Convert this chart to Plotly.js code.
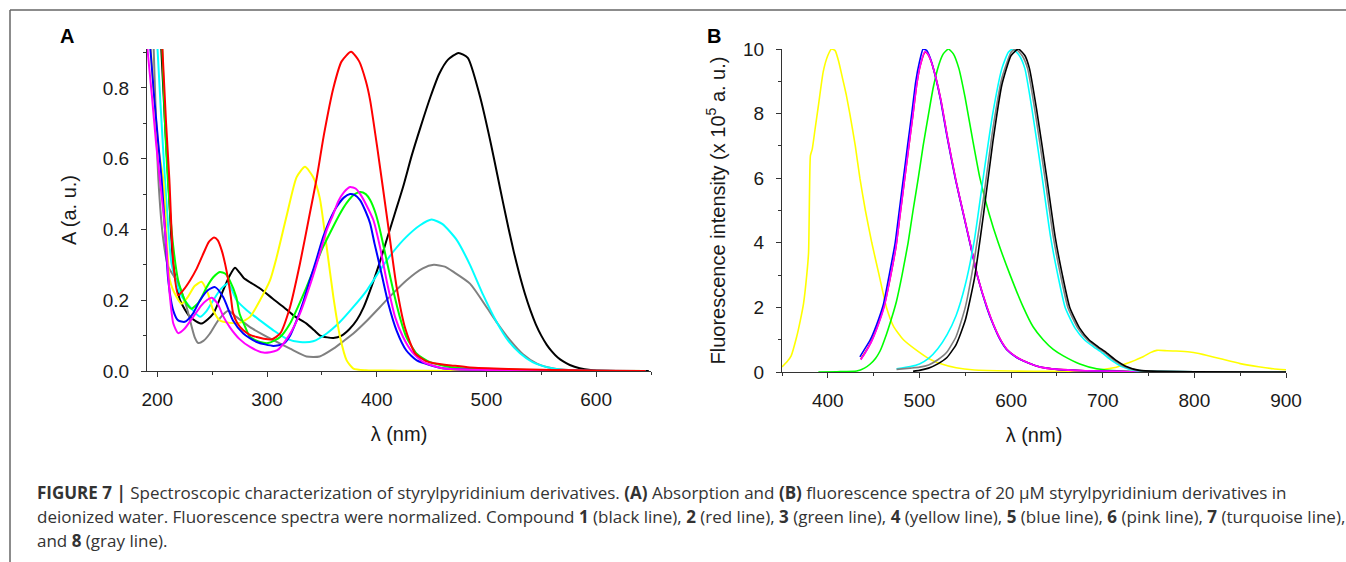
<!DOCTYPE html>
<html>
<head>
<meta charset="utf-8">
<script src="https://cdn.plot.ly/plotly-3.0.1.min.js"></script>
<style>
  html, body { margin: 0; padding: 0; background: #fff; }
  #chart { width: 1346px; height: 562px; }
</style>
</head>
<body>
<div id="chart"></div>
<script>
// ---------- Panel A: absorption (wavelength nm, absorbance a.u.) ----------
const absWl1 = [203, 207, 210, 214.6, 220.7, 229.8, 240.4, 251, 260, 266, 270.8, 275, 279, 285, 293.6, 305, 315, 325, 336, 343, 348, 355, 360.5, 368, 375, 382, 388, 394, 402, 410, 417, 424, 432, 440, 449, 457, 465, 474.5, 483, 494, 504, 510, 515, 520, 525, 530, 535, 540, 545, 550, 555, 560, 565, 570, 576, 585, 595, 610, 648];
const absA1  = [0.95, 0.70, 0.54, 0.30, 0.20, 0.153, 0.134, 0.162, 0.228, 0.27, 0.292, 0.278, 0.262, 0.25, 0.233, 0.205, 0.181, 0.155, 0.134, 0.115, 0.101, 0.095, 0.093, 0.10, 0.118, 0.145, 0.18, 0.228, 0.30, 0.38, 0.45, 0.52, 0.61, 0.69, 0.775, 0.84, 0.88, 0.899, 0.885, 0.777, 0.643, 0.553, 0.478, 0.405, 0.336, 0.274, 0.219, 0.172, 0.132, 0.10, 0.074, 0.054, 0.038, 0.027, 0.017, 0.008, 0.003, 0.001, 0.0];

const absWl2 = [204, 208, 211, 214.6, 219, 224, 229.8, 236, 242, 247, 251.7, 255, 258.7, 262, 264.7, 267, 269, 273, 278.4, 284, 290.6, 297, 304, 312, 321, 330, 339, 345, 352, 360.5, 368, 376.6, 384, 390, 394, 401, 410, 418, 426, 435, 445, 452, 470, 485, 520, 560, 600, 645];
const absA2  = [0.95, 0.70, 0.54, 0.303, 0.214, 0.23, 0.256, 0.29, 0.332, 0.365, 0.377, 0.37, 0.341, 0.30, 0.256, 0.21, 0.165, 0.135, 0.115, 0.103, 0.096, 0.091, 0.089, 0.106, 0.181, 0.303, 0.445, 0.54, 0.67, 0.80, 0.875, 0.902, 0.875, 0.82, 0.765, 0.62, 0.42, 0.24, 0.12, 0.05, 0.028, 0.022, 0.015, 0.01, 0.006, 0.003, 0.001, 0.0];

const absWl3 = [204, 207, 210, 214.6, 219, 225, 231, 238, 245, 251, 257, 262, 266, 272, 275, 280, 284.5, 293.6, 301, 312, 321, 328, 336, 343, 351, 359, 366.6, 372.6, 378.7, 384.8, 390, 394, 399, 403, 409, 415, 421, 427, 436.5, 448.6, 470, 500, 550, 600, 645];
const absA3  = [0.95, 0.70, 0.52, 0.35, 0.256, 0.20, 0.176, 0.195, 0.237, 0.265, 0.28, 0.275, 0.256, 0.209, 0.162, 0.125, 0.096, 0.082, 0.079, 0.096, 0.134, 0.18, 0.237, 0.29, 0.35, 0.40, 0.445, 0.475, 0.497, 0.506, 0.50, 0.483, 0.445, 0.398, 0.313, 0.228, 0.153, 0.096, 0.049, 0.025, 0.01, 0.005, 0.002, 0.001, 0.0];

const absWl4 = [193, 197, 201, 205.5, 211.5, 217.6, 222, 228, 234, 240.4, 246, 251, 257, 266, 275, 284.5, 293.6, 302.7, 308.8, 318, 327, 334.6, 342, 348, 354.4, 360.5, 366.6, 372.6, 378.7, 390, 420, 500, 645];
const absA4  = [0.95, 0.78, 0.63, 0.54, 0.256, 0.209, 0.19, 0.21, 0.24, 0.252, 0.22, 0.171, 0.143, 0.136, 0.136, 0.153, 0.20, 0.256, 0.322, 0.44, 0.548, 0.577, 0.548, 0.49, 0.35, 0.209, 0.096, 0.03, 0.007, 0.002, 0.001, 0.0, 0.0];

const absWl5 = [192.7, 197, 201, 204, 207, 210, 214.6, 219, 225, 232, 239, 246, 252.6, 260, 269, 278.4, 290.6, 305.8, 315, 321, 327, 333, 339, 345, 351, 357, 363.5, 370, 375.7, 380, 384.8, 390, 394, 398, 403, 410.6, 418, 427, 436.5, 460, 500, 600, 645];
const absA5  = [0.95, 0.78, 0.64, 0.54, 0.40, 0.256, 0.17, 0.143, 0.139, 0.16, 0.20, 0.228, 0.237, 0.209, 0.143, 0.106, 0.082, 0.071, 0.077, 0.10, 0.143, 0.195, 0.256, 0.315, 0.377, 0.425, 0.464, 0.49, 0.50, 0.497, 0.483, 0.45, 0.417, 0.36, 0.294, 0.19, 0.115, 0.058, 0.03, 0.008, 0.003, 0.0, 0.0];

const absWl6 = [190.4, 195, 199, 202.4, 207, 211.5, 214.6, 219, 225, 232, 240, 245, 249.5, 255, 260, 266, 275, 284.5, 296.7, 309, 320, 330, 340, 347, 354.4, 360, 365, 370, 375.7, 381, 386, 392, 397, 403, 409, 417, 424, 432, 442.6, 460, 500, 600, 640];
const absA6  = [0.93, 0.78, 0.64, 0.54, 0.40, 0.21, 0.134, 0.107, 0.12, 0.15, 0.185, 0.20, 0.207, 0.19, 0.155, 0.124, 0.09, 0.068, 0.052, 0.058, 0.10, 0.162, 0.25, 0.32, 0.398, 0.44, 0.48, 0.505, 0.52, 0.515, 0.495, 0.46, 0.426, 0.35, 0.256, 0.15, 0.096, 0.055, 0.025, 0.008, 0.003, 0.001, 0.0];

const absWl7 = [199.5, 203, 207, 213, 220.7, 229.8, 239, 245, 251, 258, 264.7, 272.3, 281.5, 293.6, 305.8, 318, 330, 342, 354.4, 366.6, 378.7, 391, 403, 415, 427, 439.5, 450, 460, 473, 485, 497, 509, 520, 530.6, 542, 555, 570, 590, 645];
const absA7  = [0.95, 0.75, 0.54, 0.303, 0.219, 0.181, 0.153, 0.17, 0.20, 0.232, 0.247, 0.20, 0.172, 0.143, 0.115, 0.091, 0.082, 0.084, 0.106, 0.139, 0.181, 0.228, 0.285, 0.337, 0.379, 0.412, 0.428, 0.415, 0.37, 0.30, 0.215, 0.14, 0.085, 0.05, 0.025, 0.011, 0.003, 0.0, 0.0];

const absWl8 = [196.3, 201, 205.5, 210, 217.6, 222, 226.7, 234, 237.4, 242, 248, 256, 264.7, 272, 284.5, 295, 305.8, 321, 336, 348, 360.5, 370, 378.7, 391, 403, 415, 427, 442, 452, 462, 470, 485, 500, 510, 521.5, 533, 546, 560, 575, 600, 645];
const absA8  = [0.95, 0.54, 0.37, 0.294, 0.256, 0.225, 0.181, 0.096, 0.079, 0.085, 0.106, 0.145, 0.17, 0.153, 0.124, 0.105, 0.087, 0.063, 0.041, 0.041, 0.063, 0.085, 0.106, 0.142, 0.181, 0.22, 0.256, 0.29, 0.30, 0.295, 0.28, 0.247, 0.181, 0.135, 0.087, 0.048, 0.021, 0.008, 0.003, 0.0, 0.0];

// ---------- Panel B: fluorescence (wavelength nm, intensity x 10^5 a.u.) ----------
const flWl1 = [493, 500, 510, 520, 530, 540, 550, 560, 570, 580, 590, 600, 608, 615, 620, 628, 639, 648, 656, 664, 675, 685, 695, 704, 715, 725, 740, 760, 800, 900];
const flI1  = [0.02, 0.05, 0.12, 0.25, 0.45, 0.85, 1.6, 2.9, 4.9, 7.1, 8.9, 9.8, 10.0, 9.8, 9.4, 8.1, 6.0, 4.2, 3.0, 2.0, 1.35, 1.0, 0.78, 0.6, 0.35, 0.18, 0.05, 0.02, 0.01, 0.0];

const flWl2 = [436, 441, 447, 454, 461.5, 468, 474.5, 479, 483.5, 488, 492.6, 497, 501, 506, 509, 513, 518, 523.5, 531, 540, 548, 556, 564, 574.4, 581, 589, 596, 607, 614, 632, 651, 681, 718, 742];
const flI2  = [0.40, 0.62, 0.92, 1.4, 2.05, 2.9, 3.9, 4.9, 5.9, 6.9, 7.9, 8.9, 9.5, 9.9, 9.85, 9.6, 9.1, 8.4, 7.2, 5.9, 4.9, 3.9, 2.9, 1.95, 1.45, 0.97, 0.68, 0.44, 0.34, 0.15, 0.08, 0.04, 0.02, 0.0];

const flWl3 = [389.7, 410, 431.6, 440, 446, 452, 457, 464, 470, 475, 481, 487.6, 493, 498.7, 504, 510, 515, 521, 526, 531.6, 537, 543, 549.8, 558, 566, 576, 586, 599, 613.4, 624, 635, 646, 657, 675, 693.4, 720, 760];
const flI3  = [0.0, 0.01, 0.03, 0.12, 0.24, 0.42, 0.65, 1.17, 1.7, 2.2, 3.0, 4.0, 5.0, 6.0, 7.0, 8.0, 8.8, 9.5, 9.85, 10.0, 9.85, 9.4, 8.5, 7.2, 6.0, 4.9, 4.0, 3.0, 2.0, 1.4, 1.0, 0.7, 0.5, 0.25, 0.1, 0.03, 0.0];

const flWl4 = [350, 355, 360, 366, 370, 373.5, 377, 379, 380, 381, 383, 386, 390, 395, 400, 404, 408, 412, 416, 420, 424, 430, 435, 441, 448, 456, 464, 472, 482.5, 497, 510, 522.5, 540, 560, 600, 650, 690, 705, 715, 726, 735, 744, 752, 759, 770, 780, 795, 805, 813, 830, 850, 870, 886, 900];
const flI4  = [0.16, 0.3, 0.5, 1.09, 1.6, 2.12, 3.0, 3.7, 5.5, 6.7, 6.9, 7.5, 8.3, 9.3, 9.8, 10.0, 9.95, 9.6, 9.1, 8.6, 8.0, 7.0, 6.0, 5.0, 4.0, 3.0, 2.0, 1.4, 1.0, 0.67, 0.42, 0.26, 0.13, 0.06, 0.03, 0.02, 0.04, 0.1, 0.15, 0.26, 0.36, 0.47, 0.6, 0.67, 0.66, 0.65, 0.62, 0.57, 0.52, 0.4, 0.26, 0.16, 0.1, 0.07];

const flWl5 = [435, 440, 446, 453, 460.7, 467, 473.5, 478, 482.5, 487, 491.6, 496, 500, 504, 508, 512, 517, 522.5, 530, 539, 547, 555, 563, 573.4, 580, 588, 595, 606, 613, 631, 650, 680, 717, 741];
const flI5  = [0.47, 0.7, 0.98, 1.45, 2.1, 3.0, 4.0, 5.0, 6.0, 7.0, 8.0, 9.0, 9.6, 10.0, 9.95, 9.7, 9.2, 8.5, 7.3, 6.0, 5.0, 4.0, 3.0, 2.0, 1.5, 1.0, 0.7, 0.45, 0.35, 0.16, 0.08, 0.04, 0.02, 0.0];

const flWl6 = [436, 441, 447, 454, 461.5, 468, 474.5, 479, 483.5, 488, 492.6, 497, 501, 506, 509, 513, 518, 523.5, 531, 540, 548, 556, 564, 574.4, 581, 589, 596, 607, 614, 632, 651, 681, 718, 742];
const flI6  = [0.38, 0.6, 0.9, 1.38, 2.02, 2.9, 3.9, 4.9, 5.9, 6.9, 7.9, 8.9, 9.5, 9.92, 9.85, 9.6, 9.1, 8.4, 7.2, 5.9, 4.9, 3.9, 2.9, 1.95, 1.45, 0.97, 0.68, 0.44, 0.34, 0.15, 0.08, 0.04, 0.02, 0.0];

const flWl7 = [475, 490, 500, 510, 520, 530, 540, 550, 560, 570, 580, 590, 597, 602, 609, 615, 623, 634, 643, 651, 659, 670, 680, 690, 699, 710, 720, 735, 760, 800, 900];
const flI7  = [0.1, 0.17, 0.25, 0.42, 0.72, 1.15, 1.75, 2.7, 4.1, 6.1, 8.0, 9.4, 9.9, 10.0, 9.8, 9.4, 8.1, 6.0, 4.2, 3.0, 2.0, 1.35, 1.0, 0.78, 0.6, 0.35, 0.18, 0.05, 0.02, 0.01, 0.0];

const flWl8 = [475, 490, 500, 510, 520, 530, 540, 550, 560, 570, 580, 590, 600, 605, 612, 618, 626, 637, 646, 654, 662, 673, 683, 693, 702, 713, 723, 738, 760, 800, 900];
const flI8  = [0.08, 0.12, 0.15, 0.22, 0.38, 0.62, 1.1, 2.0, 3.5, 5.4, 7.5, 9.1, 9.9, 10.0, 9.8, 9.4, 8.1, 6.0, 4.2, 3.0, 2.0, 1.35, 1.0, 0.78, 0.6, 0.35, 0.18, 0.05, 0.02, 0.01, 0.0];

// ---------- Text ----------
const xTitle = 'λ (nm)';
const yTitleA = 'A (a. u.)';
const yTitleB = 'Fluorescence intensity (x 10<sup>5</sup> a. u.)';
const captionLines = [
  '<b>FIGURE 7 |</b> Spectroscopic characterization of styrylpyridinium derivatives. <b>(A)</b> Absorption and <b>(B)</b> fluorescence spectra of 20 μM styrylpyridinium derivatives in',
  'deionized water. Fluorescence spectra were normalized. Compound <b>1</b> (black line), <b>2</b> (red line), <b>3</b> (green line), <b>4</b> (yellow line), <b>5</b> (blue line), <b>6</b> (pink line), <b>7</b> (turquoise line),',
  'and <b>8</b> (gray line).'
];

// ---------- Build ----------
const W = 1346, H = 562;
const FONT = 'Liberation Sans, Arial, Helvetica, sans-serif';
const CAPFONT = 'Open Sans, Liberation Sans, Arial, sans-serif';
const colors = {1: '#000000', 2: '#ff0000', 3: '#00ff00', 4: '#ffff00', 5: '#0000ff', 6: '#ff00ff', 7: '#00ffff', 8: '#808080'};

const absSets = {1: [absWl1, absA1], 2: [absWl2, absA2], 3: [absWl3, absA3], 4: [absWl4, absA4], 5: [absWl5, absA5], 6: [absWl6, absA6], 7: [absWl7, absA7], 8: [absWl8, absA8]};
const flSets = {1: [flWl1, flI1], 2: [flWl2, flI2], 3: [flWl3, flI3], 4: [flWl4, flI4], 5: [flWl5, flI5], 6: [flWl6, flI6], 7: [flWl7, flI7], 8: [flWl8, flI8]};

const absOrder = [1, 8, 7, 4, 3, 5, 6, 2];
const flOrder = [4, 3, 2, 5, 6, 7, 8, 1];

const traces = [];
absOrder.forEach(k => {
  traces.push({x: absSets[k][0], y: absSets[k][1], xaxis: 'x', yaxis: 'y', type: 'scatter', mode: 'lines',
    line: {color: colors[k], width: 2, shape: 'spline', smoothing: 0.6}, hoverinfo: 'skip', showlegend: false});
});
flOrder.forEach(k => {
  traces.push({x: flSets[k][0], y: flSets[k][1], xaxis: 'x2', yaxis: 'y2', type: 'scatter', mode: 'lines',
    line: {color: colors[k], width: 1.6, shape: 'spline', smoothing: 0.5}, hoverinfo: 'skip', showlegend: false});
});

const px = v => v / W;
const py = v => 1 - v / H;

const tickFont = {family: FONT, size: 19, color: '#1a1a1a'};
const titleFont = {family: FONT, size: 20, color: '#1a1a1a'};
const axisCommon = {
  showline: true, linecolor: '#333', linewidth: 1, ticks: 'outside', ticklen: 5, tickcolor: '#333', tickwidth: 1,
  showgrid: false, zeroline: false, tickfont: tickFont, fixedrange: true
};

const layout = {
  width: W, height: H, margin: {l: 0, r: 0, t: 0, b: 0}, paper_bgcolor: '#fff', plot_bgcolor: 'rgba(0,0,0,0)',
  showlegend: false,
  xaxis: Object.assign({}, axisCommon, {domain: [px(147), px(651)], range: [190.6, 650], dtick: 100, tick0: 0,
    minor: {ticks: 'outside', ticklen: 3, dtick: 50, tick0: 0, tickcolor: '#333'}, anchor: 'y', ticklabelstandoff: 6,
    title: {text: xTitle, font: titleFont, standoff: 18}}),
  yaxis: Object.assign({}, axisCommon, {domain: [py(371), py(49)], range: [0, 0.91], dtick: 0.2, tick0: 0, tickformat: '.1f',
    minor: {ticks: 'outside', ticklen: 3, dtick: 0.1, tick0: 0, tickcolor: '#333'}, anchor: 'x', ticklabelstandoff: 8,
    title: {text: yTitleA, font: titleFont, standoff: 20}}),
  xaxis2: Object.assign({}, axisCommon, {domain: [px(782), px(1286)], range: [350, 900], dtick: 100, tick0: 0,
    minor: {ticks: 'outside', ticklen: 3, dtick: 50, tick0: 0, tickcolor: '#333'}, anchor: 'y2', ticklabelstandoff: 6,
    title: {text: xTitle, font: titleFont, standoff: 18}}),
  yaxis2: Object.assign({}, axisCommon, {domain: [py(372), py(49)], range: [0, 10], dtick: 2, tick0: 0,
    minor: {ticks: 'outside', ticklen: 3, dtick: 1, tick0: 0, tickcolor: '#333'}, anchor: 'x2', ticklabelstandoff: 8,
    title: {text: yTitleB, font: titleFont, standoff: 12}}),
  shapes: [
    {type: 'line', xref: 'paper', yref: 'paper', x0: px(10), x1: 1, y0: py(10), y1: py(10), line: {color: '#666', width: 1.5}},
    {type: 'line', xref: 'paper', yref: 'paper', x0: px(10), x1: px(10), y0: py(10), y1: 0, line: {color: '#666', width: 1.5}}
  ],
  annotations: [
    {text: '<b>A</b>', xref: 'paper', yref: 'paper', x: px(67), y: py(36), xanchor: 'center', yanchor: 'middle', showarrow: false,
      font: {family: FONT, size: 20, color: '#000'}},
    {text: '<b>B</b>', xref: 'paper', yref: 'paper', x: px(714), y: py(36), xanchor: 'center', yanchor: 'middle', showarrow: false,
      font: {family: FONT, size: 20, color: '#000'}}
  ]
};

captionLines.forEach((t, i) => {
  layout.annotations.push({text: t, xref: 'paper', yref: 'paper', x: px(35), y: py(492 + 24 * i), xanchor: 'left', yanchor: 'middle',
    showarrow: false, align: 'left', font: {family: CAPFONT, size: 17, color: '#333'}});
});

Plotly.newPlot('chart', traces, layout, {staticPlot: true, displayModeBar: false});
</script>
</body>
</html>
